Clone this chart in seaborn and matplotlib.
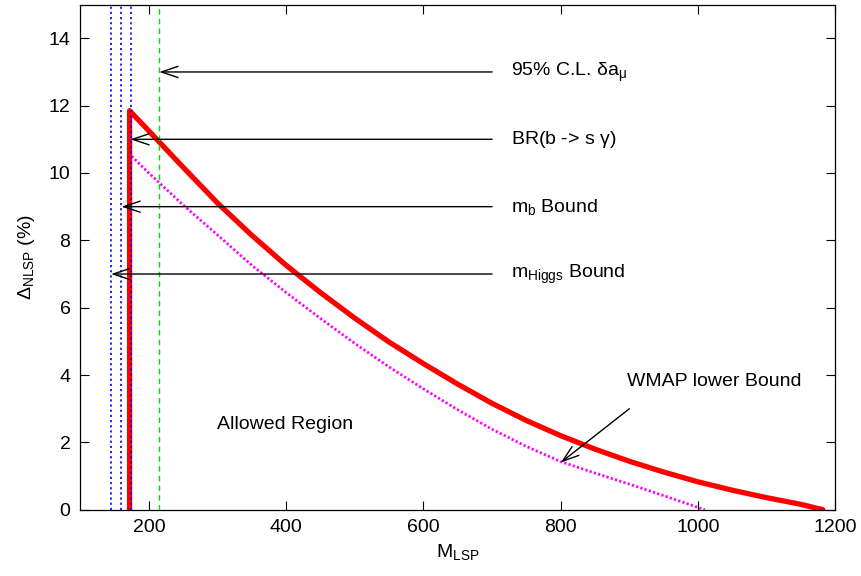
import matplotlib
matplotlib.use("Agg")
import matplotlib.pyplot as plt
import seaborn as sns
import pandas as pd

# red boundary curve (vertical edge then decay)
red_x = [172, 172, 200, 250, 300, 350, 400, 450, 500, 550, 600, 650,
         700, 750, 800, 850, 900, 950, 1000, 1050, 1100, 1150, 1182]
red_y = [0.0, 11.85, 11.25, 10.17, 9.11, 8.15, 7.26, 6.45, 5.69, 4.98, 4.34, 3.73,
         3.16, 2.65, 2.20, 1.80, 1.44, 1.12, 0.83, 0.58, 0.36, 0.16, 0.0]

# WMAP lower bound (magenta dotted)
wmap_x = [175, 200, 250, 300, 350, 400, 450, 500, 550, 600, 650, 700,
          750, 800, 850, 900, 950, 1010]
wmap_y = [10.5, 10.0, 9.05, 8.16, 7.26, 6.45, 5.68, 4.94, 4.24, 3.59, 2.97, 2.39,
          1.88, 1.43, 1.09, 0.76, 0.42, 0.0]

# vertical bounds
blue_bounds = [145, 160, 174]
green_bound = 215

# arrow labels: (text, y, arrow tip x)
arrow_labels = [r"95% C.L. $\delta a_{\mu}$", r"BR(b -> s $\gamma$)", r"m$_{b}$ Bound", r"m$_{Higgs}$ Bound"]
arrow_y = [13, 11, 9, 7]
arrow_tip_x = [215, 173, 160, 145]

sns.set_style("ticks")
plt.rcParams["font.family"] = ["Liberation Sans", "DejaVu Sans"]
plt.rcParams["mathtext.fontset"] = "custom"
plt.rcParams["mathtext.rm"] = "Liberation Sans"
plt.rcParams["mathtext.it"] = "Liberation Sans"
plt.rcParams["mathtext.default"] = "regular"
plt.rcParams["text.color"] = "black"
plt.rcParams["axes.labelcolor"] = "black"

FS = 14

fig = plt.figure(figsize=(8.62, 5.76), dpi=100)
ax = fig.add_axes([0.093, 0.115, 0.876, 0.877])

wmap_df = pd.DataFrame({"x": wmap_x, "y": wmap_y})
sns.lineplot(data=wmap_df, x="x", y="y", sort=False, estimator=None, ax=ax,
             color="#ff00ff", lw=2.0, linestyle=(0, (0.8, 0.8)))

red_df = pd.DataFrame({"x": red_x, "y": red_y})
sns.lineplot(data=red_df, x="x", y="y", sort=False, estimator=None, ax=ax,
             color="#ff0000", lw=3.8)

for bx in blue_bounds:
    ax.axvline(bx, color="#0000ff", lw=1.2, linestyle=(0, (1.3, 1.8)), zorder=3)
ax.axvline(green_bound, color="#00e000", lw=1.0, linestyle=(0, (4, 3)), zorder=3)

arrow_kw = dict(arrowstyle="->,head_length=1.2,head_width=0.4", color="black",
                lw=1.0, shrinkA=0, shrinkB=0, mutation_scale=10)

for lab, yy, tx in zip(arrow_labels, arrow_y, arrow_tip_x):
    ax.annotate("", xy=(tx, yy), xytext=(700, yy), arrowprops=arrow_kw)
    ax.text(728, yy, lab, fontsize=FS, va="center", ha="left", color="black")

ax.annotate("", xy=(800, 1.4), xytext=(900, 3.0), arrowprops=arrow_kw)
ax.text(1024, 3.8, "WMAP lower Bound", fontsize=FS, va="center", ha="center", color="black")
ax.text(300, 2.53, "Allowed Region", fontsize=FS, va="center", ha="left", color="black")

ax.set_xlim(100, 1200)
ax.set_ylim(0, 15)
ax.set_xticks([200, 400, 600, 800, 1000, 1200])
ax.set_yticks(range(0, 15, 2))
ax.tick_params(direction="in", length=6.5, width=0.8, top=True, right=True,
               labelsize=FS, pad=7, colors="black")
for sp in ax.spines.values():
    sp.set_visible(True)
    sp.set_linewidth(0.9)
    sp.set_color("black")

ax.set_xlabel(r"M$_{LSP}$", fontsize=FS, labelpad=4)
ax.set_ylabel(r"$\Delta_{NLSP}$ (%)", fontsize=FS, labelpad=8)

fig.savefig("out.png", dpi=100)
